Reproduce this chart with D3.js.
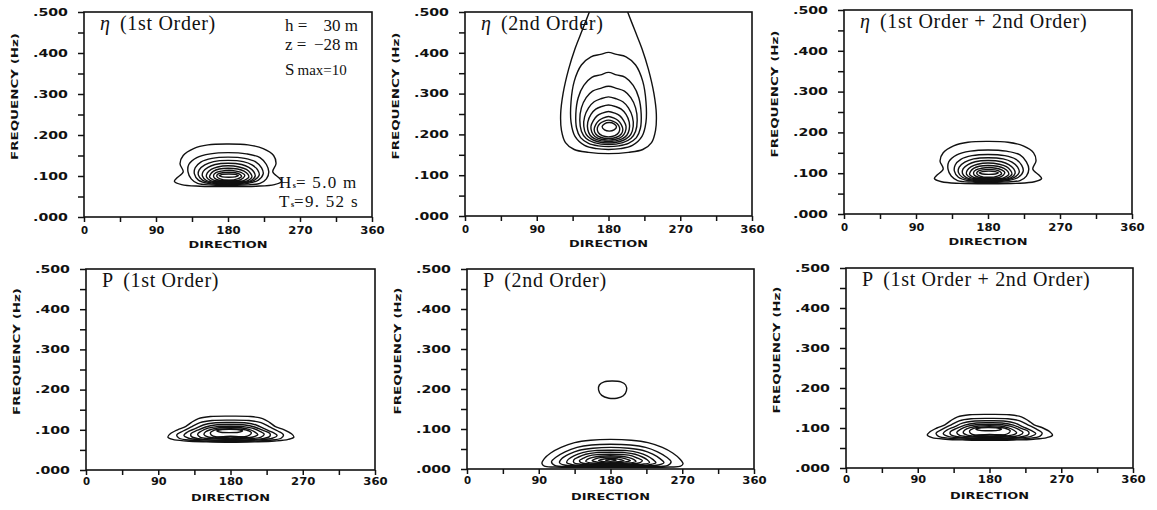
<!DOCTYPE html>
<html>
<head>
<meta charset="utf-8">
<script src="https://cdn.jsdelivr.net/npm/d3@7"></script>
<style>
  html, body { margin: 0; background: #fff; }
  svg { display: block; }
</style>
</head>
<body>
<svg id="chart" width="1157" height="510"></svg>
<script>
// ---- axes ----
const directionTicks = [0, 45, 90, 135, 180, 225, 270, 315, 360];
const directionLabels = [0, 90, 180, 270, 360];
const frequencyTicks = [0, .05, .1, .15, .2, .25, .3, .35, .4, .45, .5];
const frequencyLabels = [0, .1, .2, .3, .4, .5];

// ---- panel titles ----
const panelSymbols = ["η", "η", "η", "P", "P", "P"];
const panelTitles = ["(1st Order)", "(2nd Order)", "(1st Order + 2nd Order)",
                     "(1st Order)", "(2nd Order)", "(1st Order + 2nd Order)"];

// ---- sea-state annotations ----
const siteLines = [["h =", "30 m"], ["z =", "\u221228 m"]];
const spreadLabel = ["S", "max=10"];
const waveLines = [["H", "s", "= 5.0 m"], ["T", "s", "=9. 52 s"]];

// ---- contour lines: [direction (deg), frequency (Hz)] ----
// surface elevation, 1st order
const eta1Rings = [
  [[180,.178],[155,.176],[137,.167],[124,.150],[120,.130],[124,.110],[116,.095],[113,.087],[122,.079],[145,.075],[180,.074],[215,.075],[238,.079],[247,.087],[244,.095],[236,.110],[240,.130],[237,.150],[224,.167],[205,.176]],
  [[180,.157],[158,.154],[141,.145],[131,.128],[130,.110],[134,.093],[142,.082],[160,.078],[180,.077],[200,.078],[220,.082],[228,.093],[231,.110],[228,.128],[220,.145],[203,.154]],
  [[180,.146],[160,.143],[146,.134],[139,.120],[138,.105],[143,.090],[155,.082],[180,.079],[205,.082],[218,.090],[224,.105],[222,.120],[215,.134],[201,.143]],
  [[180,.138],[162,.135],[151,.127],[144,.115],[143,.102],[148,.090],[160,.083],[180,.080],[200,.083],[213,.090],[219,.102],[217,.115],[210,.127],[199,.135]],
  [[180,.131],[164,.128],[155,.121],[149,.111],[148,.100],[153,.089],[164,.084],[180,.081],[198,.084],[209,.089],[214,.100],[212,.111],[206,.121],[197,.128]],
  [[180,.125],[167,.122],[159,.116],[154,.107],[153,.098],[158,.089],[168,.085],[180,.083],[195,.085],[205,.089],[210,.098],[208,.107],[203,.116],[194,.122]],
  [[180,.119],[169,.117],[162,.112],[158,.104],[157,.097],[162,.090],[170,.086],[180,.085],[193,.086],[201,.090],[206,.097],[205,.104],[200,.112],[192,.117]],
  [[181,.114],[172,.112],[165,.108],[162,.102],[163,.095],[170,.089],[181,.087],[193,.089],[199,.095],[201,.102],[197,.108],[190,.112]],
  [[181,.109],[173,.108],[167,.104],[166,.099],[170,.093],[181,.090],[192,.093],[197,.099],[195,.104],[189,.108]],
  [[181,.105],[173,.104],[169,.101],[173,.098],[181,.097],[189,.098],[193,.101],[189,.104]],
  [[162,.086],[180,.089],[200,.086],[180,.083]],
  [[165,.085],[180,.087],[197,.085],[180,.082]]
];

// surface elevation, 2nd order
const eta2Open = [
  [[156,.500],[147,.455],[138,.41],[130,.36],[123,.30],[120,.25],[121,.21],[126,.180],[137,.163],[155,.156],[180,.153],[205,.156],[223,.163],[234,.180],[239,.21],[240,.25],[237,.30],[230,.36],[222,.41],[213,.455],[204,.500]]
];
const eta2Rings = [
  [[180,.401],[170,.396],[158,.390],[146,.37],[137,.33],[133,.28],[133,.23],[138,.195],[150,.173],[165,.165],[180,.163],[195,.165],[210,.173],[222,.195],[227,.23],[227,.28],[223,.33],[214,.37],[202,.390],[190,.396]],
  [[180,.352],[170,.346],[159,.340],[149,.320],[142,.29],[139,.25],[140,.215],[145,.192],[155,.178],[167,.172],[180,.170],[193,.172],[205,.178],[215,.192],[220,.215],[221,.25],[218,.29],[211,.320],[201,.340],[190,.346]],
  [[180,.318],[170,.313],[160,.306],[152,.290],[146,.265],[144,.235],[146,.208],[152,.190],[162,.180],[180,.175],[198,.180],[208,.190],[214,.208],[216,.235],[214,.265],[208,.290],[200,.306],[190,.313]],
  [[180,.292],[170,.287],[162,.280],[155,.265],[150,.243],[149,.220],[152,.200],[158,.189],[167,.182],[180,.179],[193,.182],[202,.189],[208,.200],[211,.220],[210,.243],[205,.265],[198,.280],[190,.287]],
  [[180,.272],[171,.268],[164,.262],[158,.249],[154,.230],[154,.212],[157,.198],[163,.189],[171,.184],[180,.182],[189,.184],[197,.189],[203,.198],[206,.212],[206,.230],[202,.249],[196,.262],[189,.268]],
  [[180,.256],[172,.252],[166,.246],[161,.234],[158,.220],[159,.206],[163,.195],[171,.188],[180,.186],[189,.188],[197,.195],[201,.206],[202,.220],[199,.234],[194,.246],[188,.252]],
  [[180,.244],[173,.240],[168,.234],[164,.224],[162,.212],[164,.201],[170,.193],[180,.190],[190,.193],[196,.201],[198,.212],[196,.224],[192,.234],[187,.240]],
  [[180,.235],[174,.232],[169,.226],[166,.216],[167,.205],[172,.197],[180,.194],[188,.197],[193,.205],[194,.216],[191,.226],[186,.232]],
  [[181,.229],[175,.226],[172,.219],[175,.211],[181,.208],[187,.211],[190,.219],[187,.226]]
];

// bottom pressure, 1st order
const p1Rings = [
  [[180,.134],[155,.133],[140,.128],[131,.118],[124,.108],[114,.100],[105,.090],[102,.082],[108,.076],[125,.072],[150,.070],[180,.069],[210,.070],[235,.072],[252,.076],[259,.082],[256,.090],[247,.100],[236,.108],[229,.118],[220,.128],[205,.133]],
  [[180,.124],[157,.123],[142,.118],[132,.108],[121,.097],[113,.087],[116,.079],[132,.074],[180,.071],[228,.074],[243,.079],[246,.087],[239,.097],[228,.108],[218,.118],[203,.123]],
  [[180,.118],[159,.117],[146,.112],[136,.103],[126,.094],[122,.086],[128,.079],[145,.075],[180,.073],[215,.075],[232,.079],[238,.086],[232,.094],[222,.103],[212,.112],[200,.117]],
  [[180,.113],[161,.112],[149,.107],[139,.099],[131,.091],[131,.084],[140,.078],[180,.074],[220,.078],[229,.084],[229,.091],[220,.099],[210,.107],[198,.112]],
  [[180,.109],[163,.108],[152,.104],[144,.097],[139,.089],[142,.082],[155,.078],[180,.076],[205,.078],[218,.082],[222,.089],[216,.097],[207,.104],[196,.108]],
  [[180,.106],[166,.105],[156,.101],[149,.095],[147,.088],[152,.082],[164,.079],[180,.078],[196,.079],[208,.082],[214,.088],[210,.095],[203,.101],[193,.105]],
  [[180,.103],[168,.102],[160,.099],[155,.093],[156,.087],[163,.082],[180,.080],[196,.082],[204,.087],[206,.093],[200,.099],[191,.102]],
  [[178,.101],[168,.100],[163,.097],[168,.094],[178,.093],[190,.094],[195,.097],[190,.100]],
  [[160,.080],[180,.084],[202,.080],[180,.077]],
  [[165,.081],[180,.083],[198,.081],[180,.078]]
];

// bottom pressure, 2nd order
const p2Rings = [
  [[182,.220],[172,.218],[166,.210],[165,.198],[169,.184],[178,.177],[188,.177],[196,.183],[200,.196],[199,.210],[193,.218]],
  [[180,.074],[155,.072],[135,.066],[118,.054],[105,.040],[97,.026],[94,.014],[97,.007],[110,.005],[140,.004],[180,.004],[220,.004],[255,.005],[268,.007],[271,.013],[267,.025],[258,.040],[245,.054],[227,.066],[206,.072]],
  [[180,.062],[156,.060],[138,.054],[123,.043],[112,.030],[106,.018],[110,.009],[130,.006],[180,.006],[230,.006],[252,.009],[256,.018],[250,.030],[239,.043],[224,.054],[205,.060]],
  [[180,.054],[158,.052],[141,.047],[128,.037],[119,.026],[116,.016],[122,.010],[140,.008],[180,.007],[220,.008],[240,.010],[247,.016],[242,.026],[233,.037],[220,.047],[203,.052]],
  [[180,.047],[160,.046],[145,.041],[134,.033],[127,.024],[125,.016],[132,.011],[150,.009],[180,.009],[210,.009],[229,.011],[237,.016],[233,.024],[226,.033],[215,.041],[201,.046]],
  [[180,.042],[162,.041],[149,.037],[140,.030],[134,.023],[134,.016],[142,.012],[160,.011],[180,.010],[202,.011],[220,.012],[229,.016],[226,.023],[220,.030],[211,.037],[198,.041]],
  [[180,.037],[164,.036],[153,.033],[146,.027],[141,.021],[143,.016],[152,.013],[180,.012],[208,.013],[217,.016],[220,.021],[214,.027],[207,.033],[196,.036]],
  [[180,.033],[167,.032],[158,.029],[151,.024],[149,.019],[156,.015],[180,.013],[204,.015],[212,.019],[209,.024],[202,.029],[193,.032]],
  [[180,.030],[170,.029],[162,.026],[157,.021],[164,.017],[180,.015],[196,.017],[205,.021],[198,.026],[190,.029]],
  [[180,.027],[172,.025],[165,.021],[172,.018],[180,.017],[190,.018],[197,.021],[189,.025]],
  [[180,.024],[174,.022],[180,.019],[187,.022]]
];

// the 1st+2nd order sums are indistinguishable from the 1st order fields at these levels
const eta12Rings = eta1Rings;
const p12Rings = p1Rings;

const panelRings = [eta1Rings, eta2Rings, eta12Rings, p1Rings, p2Rings, p12Rings];
const panelOpen = [[], eta2Open, [], [], [], []];

// ---- layout (pixel frame of each plot area) ----
const frames = [
  {x0: 84,  x1: 372,  y0: 12,  y1: 217, pad: 5},
  {x0: 465, x1: 752,  y0: 12,  y1: 216, pad: 5},
  {x0: 844, x1: 1132, y0: 10,  y1: 214, pad: 5},
  {x0: 86,  x1: 375,  y0: 269, y1: 470, pad: 3},
  {x0: 467, x1: 754,  y0: 269, y1: 469, pad: 3},
  {x0: 846, x1: 1133, y0: 268, y1: 468, pad: 3}
];

const svg = d3.select("#chart");
const INK = "#111";
const labelFont = "'DejaVu Sans', sans-serif";
const serifFont = "'Liberation Serif', 'DejaVu Serif', serif";
const freqFmt = v => d3.format(".3f")(v).replace(/^0/, "");

panelRings.forEach((rings, i) => {
  const f = frames[i];
  const x = d3.scaleLinear().domain([0, 360]).range([f.x0, f.x1]);
  const y = d3.scaleLinear().domain([0, .5]).range([f.y1, f.y0]);
  const g = svg.append("g");

  const clipId = "clip" + i;
  svg.append("clipPath").attr("id", clipId).append("rect")
    .attr("x", f.x0).attr("y", f.y0)
    .attr("width", f.x1 - f.x0).attr("height", f.y1 - f.y0);

  // contours
  const closed = d3.line().x(d => x(d[0])).y(d => y(d[1]))
    .curve(d3.curveCatmullRomClosed.alpha(0.5));
  const open = d3.line().x(d => x(d[0])).y(d => y(d[1]))
    .curve(d3.curveCatmullRom.alpha(0.5));
  const cg = g.append("g").attr("clip-path", `url(#${clipId})`)
    .attr("fill", "none").attr("stroke", INK).attr("stroke-width", 1.4)
    .attr("stroke-linejoin", "round");
  cg.selectAll("path.ring").data(rings).join("path").attr("class", "ring").attr("d", closed);
  cg.selectAll("path.open").data(panelOpen[i]).join("path").attr("class", "open").attr("d", open);

  // frame
  g.append("rect")
    .attr("x", f.x0).attr("y", f.y0)
    .attr("width", f.x1 - f.x0).attr("height", f.y1 - f.y0)
    .attr("fill", "none").attr("stroke", INK).attr("stroke-width", 1.6);

  // x axis
  const xAxis = d3.axisBottom(x).tickValues(directionTicks).tickSize(5).tickPadding(f.pad)
    .tickFormat(d => directionLabels.includes(d) ? String(d) : "");
  const gx = g.append("g").attr("transform", `translate(0,${f.y1})`).call(xAxis);
  gx.select(".domain").remove();
  gx.selectAll(".tick line").attr("stroke", INK).attr("stroke-width", 1.5);
  gx.selectAll(".tick text")
    .attr("fill", INK).attr("font-family", labelFont).attr("font-weight", "bold").attr("font-size", 10.5)
    .each(function(d) {
      const s = String(d);
      if (directionLabels.includes(d))
        d3.select(this).attr("textLength", s.length * 8.6 - 1.5).attr("lengthAdjust", "spacingAndGlyphs");
    });

  // y axis
  const yAxis = d3.axisLeft(y).tickValues(frequencyTicks).tickSize(6).tickPadding(10)
    .tickFormat(d => frequencyLabels.some(v => Math.abs(v - d) < 1e-9) ? freqFmt(d) : "");
  const gy = g.append("g").attr("transform", `translate(${f.x0},0)`).call(yAxis);
  gy.select(".domain").remove();
  gy.selectAll(".tick line").attr("stroke", INK).attr("stroke-width", 1.5);
  gy.selectAll(".tick text")
    .attr("fill", INK).attr("font-family", labelFont).attr("font-weight", "bold").attr("font-size", 10.5)
    .each(function() {
      if (this.textContent) d3.select(this).attr("textLength", 35).attr("lengthAdjust", "spacingAndGlyphs");
    });

  // axis titles
  const cx = (f.x0 + f.x1) / 2;
  g.append("text")
    .attr("x", cx).attr("y", f.y1 + 31).attr("text-anchor", "middle")
    .attr("font-family", labelFont).attr("font-weight", "bold").attr("font-size", 9).attr("fill", INK)
    .attr("textLength", 79).attr("lengthAdjust", "spacingAndGlyphs")
    .text("DIRECTION");
  const cy = (f.y0 + f.y1) / 2 - 18;
  g.append("text")
    .attr("transform", `translate(${f.x0 - 66},${cy}) rotate(-90)`)
    .attr("text-anchor", "middle")
    .attr("font-family", labelFont).attr("font-weight", "bold").attr("font-size", 9).attr("fill", INK)
    .attr("textLength", 127).attr("lengthAdjust", "spacingAndGlyphs")
    .text("FREQUENCY (Hz)");

  // panel title
  const t = g.append("text")
    .attr("x", f.x0 + 16).attr("y", f.y0 + 18)
    .attr("font-family", serifFont).attr("font-size", 20).attr("fill", INK);
  t.append("tspan").attr("font-style", panelSymbols[i] === "η" ? "italic" : "normal").text(panelSymbols[i]);
  t.append("tspan").attr("dx", 10).attr("letter-spacing", 0.7).text(panelTitles[i]);

  // sea-state notes in the first panel
  if (i === 0) {
    const nx = 285, rx = 358;
    siteLines.forEach((ln, k) => {
      const by = 31 + k * 19;
      g.append("text").attr("x", nx).attr("y", by)
        .attr("font-family", serifFont).attr("font-size", 17).attr("fill", INK).text(ln[0]);
      g.append("text").attr("x", rx).attr("y", by).attr("text-anchor", "end")
        .attr("font-family", serifFont).attr("font-size", 17).attr("fill", INK).text(ln[1]);
    });
    const s = g.append("text").attr("x", nx).attr("y", 75)
      .attr("font-family", serifFont).attr("font-size", 17).attr("fill", INK);
    s.append("tspan").text(spreadLabel[0]);
    s.append("tspan").attr("dx", 3).attr("font-size", 15).text(spreadLabel[1]);

    waveLines.forEach((ln, k) => {
      const by = 188 + k * 19;
      const w = g.append("text").attr("x", 279).attr("y", by)
        .attr("font-family", serifFont).attr("font-size", 17).attr("fill", INK);
      w.append("tspan").text(ln[0]);
      w.append("tspan").attr("dx", 1.5).attr("font-size", 8).attr("font-weight", "bold").text(ln[1]);
      w.append("tspan").attr("letter-spacing", 1.3).text(ln[2]);
    });
  }
});
</script>
</body>
</html>
